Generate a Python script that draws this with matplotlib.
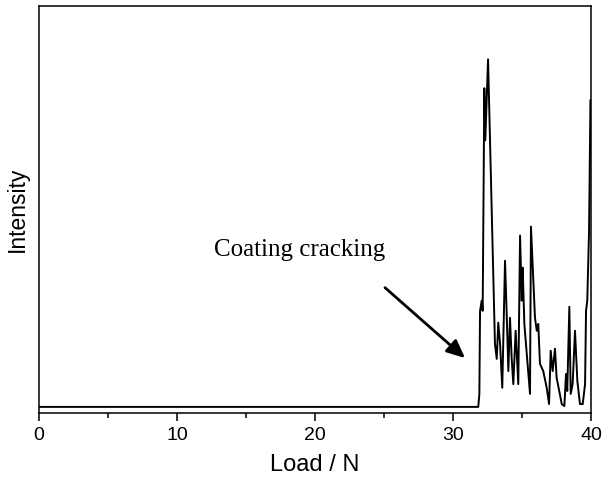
import matplotlib
matplotlib.use("Agg")
import matplotlib.pyplot as plt
from matplotlib.ticker import MultipleLocator

load = [0.0, 31.83, 31.91, 31.96, 32.08, 32.15, 32.27, 32.34, 32.54, 33.04,
        33.17, 33.28, 33.41, 33.57, 33.77, 33.89, 34.01, 34.13, 34.25, 34.37,
        34.54, 34.73, 34.86, 34.98, 35.05, 35.17, 35.58, 35.65, 35.94, 36.07,
        36.18, 36.30, 36.54, 36.79, 36.96, 37.08, 37.22, 37.39, 37.51, 37.70,
        37.88, 38.07, 38.19, 38.28, 38.43, 38.53, 38.67, 38.84, 39.01, 39.20,
        39.40, 39.57, 39.64, 39.73, 39.86, 39.96]
intensity = [0.015, 0.015, 0.047, 0.251, 0.276, 0.251, 0.798, 0.670, 0.869, 0.170,
             0.133, 0.222, 0.170, 0.062, 0.374, 0.244, 0.103, 0.234, 0.135, 0.071,
             0.202, 0.071, 0.436, 0.276, 0.357, 0.219, 0.047, 0.458, 0.234, 0.202,
             0.219, 0.121, 0.103, 0.062, 0.022, 0.153, 0.103, 0.158, 0.086, 0.054,
             0.022, 0.017, 0.096, 0.054, 0.261, 0.047, 0.071, 0.202, 0.079, 0.022,
             0.022, 0.071, 0.251, 0.276, 0.448, 0.768]

xticks = [0, 10, 20, 30, 40]
annotation_text = "Coating cracking"

fig = plt.figure(figsize=(6.03, 4.78), dpi=100)
ax = fig.add_axes([39/603, (478-413)/478, (591-39)/603, (413-6)/478])
ax.plot(load, intensity, color="black", lw=1.4)
ax.set_xlim(0, 40)
ax.set_ylim(0, 1)
ax.set_xticks(xticks)
ax.set_xticklabels([str(t) for t in xticks])
ax.xaxis.set_minor_locator(MultipleLocator(5))
ax.set_yticks([])
for s in ax.spines.values():
    s.set_linewidth(1.1)
ax.tick_params(axis="x", which="major", length=6, width=1.1, labelsize=14,
               pad=4)
ax.tick_params(axis="x", which="minor", length=3.5, width=1.1)
for lab in ax.get_xticklabels():
    lab.set_fontfamily("Liberation Sans")
ax.set_xlabel("Load / N", fontsize=17, fontfamily="Liberation Sans", labelpad=7)
ax.set_ylabel("Intensity", fontsize=16.5, fontfamily="Liberation Sans", labelpad=7)

ax.text(18.9, 0.40, annotation_text, fontsize=18, fontfamily="Liberation Serif",
        ha="center", va="center")
ax.annotate("", xy=(30.87, 0.135), xytext=(25.07, 0.308),
            arrowprops=dict(arrowstyle="-|>,head_length=1.1,head_width=0.5",
                            color="black", lw=2.0, shrinkA=0, shrinkB=0))

fig.savefig("out.png", dpi=100)
